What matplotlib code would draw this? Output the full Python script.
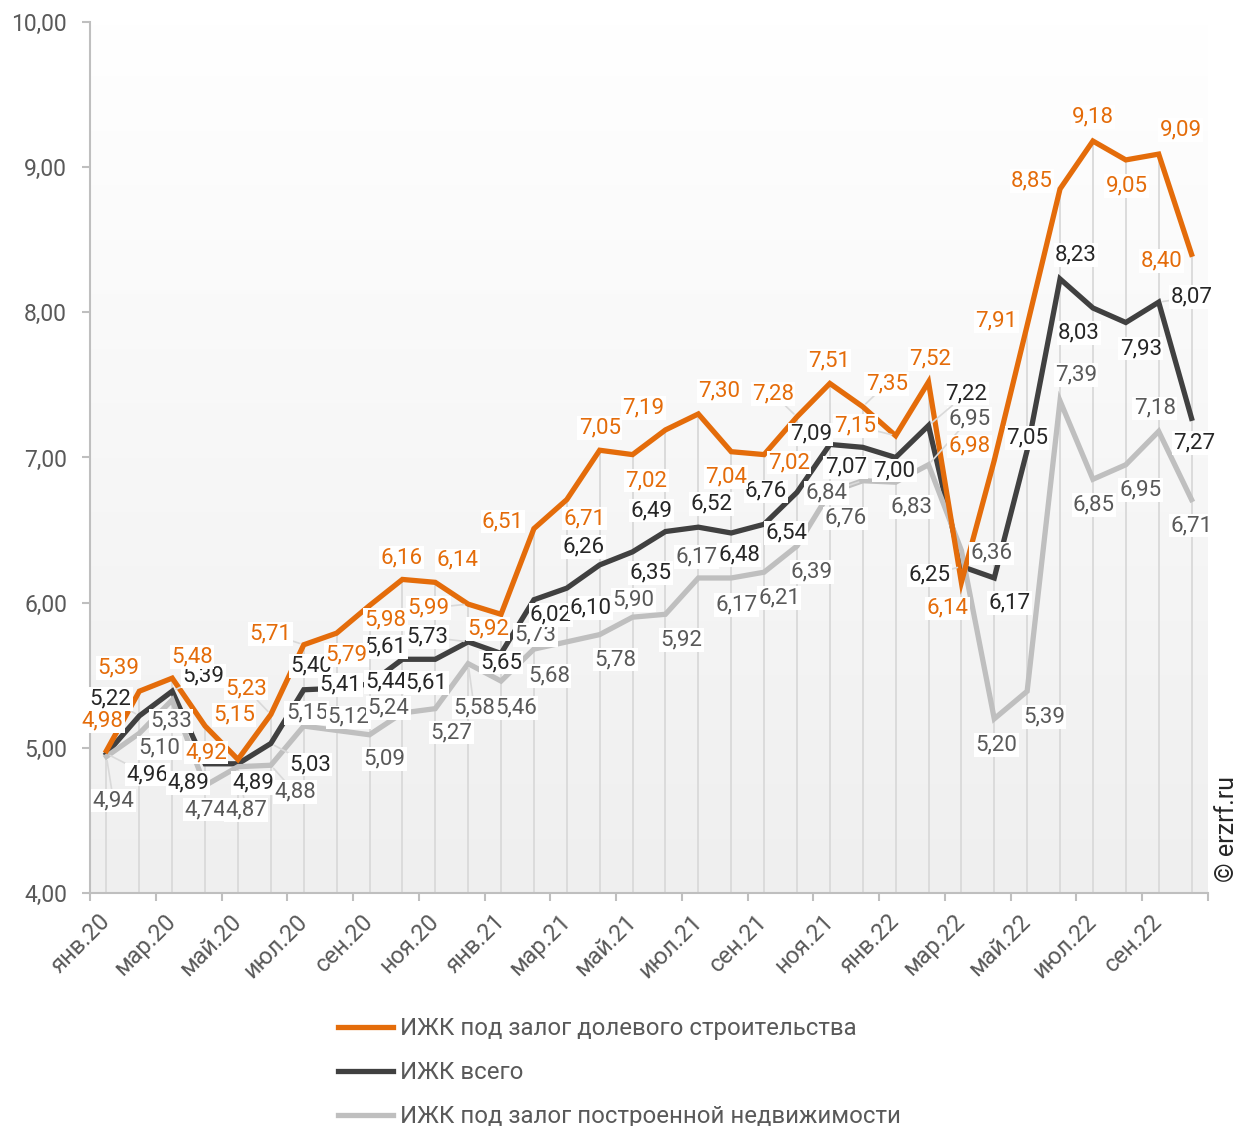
import matplotlib
matplotlib.use("Agg")
import matplotlib.pyplot as plt
import numpy as np
from matplotlib.colors import LinearSegmentedColormap

plt.rcParams['font.family'] = ['Roboto', 'DejaVu Sans']

# data
months = ["янв.20", "фев.20", "мар.20", "апр.20", "май.20", "июн.20",
          "июл.20", "авг.20", "сен.20", "окт.20", "ноя.20", "дек.20",
          "янв.21", "фев.21", "мар.21", "апр.21", "май.21", "июн.21",
          "июл.21", "авг.21", "сен.21", "окт.21", "ноя.21", "дек.21",
          "янв.22", "фев.22", "мар.22", "апр.22", "май.22", "июн.22",
          "июл.22", "авг.22", "сен.22", "окт.22"]

dolevoe = [4.98, 5.39, 5.48, 5.15, 4.92, 5.23, 5.71, 5.79, 5.98, 6.16, 6.14, 5.99,
           5.92, 6.51, 6.71, 7.05, 7.02, 7.19, 7.30, 7.04, 7.02, 7.28, 7.51, 7.35,
           7.15, 7.52, 6.14, 6.98, 7.91, 8.85, 9.18, 9.05, 9.09, 8.40]

vsego = [4.96, 5.22, 5.39, 4.89, 4.89, 5.03, 5.40, 5.41, 5.44, 5.61, 5.61, 5.73,
         5.65, 6.02, 6.10, 6.26, 6.35, 6.49, 6.52, 6.48, 6.54, 6.76, 7.09, 7.07,
         7.00, 7.22, 6.25, 6.17, 7.05, 8.23, 8.03, 7.93, 8.07, 7.27]

postroennoe = [4.94, 5.10, 5.33, 4.74, 4.87, 4.88, 5.15, 5.12, 5.09, 5.24, 5.27, 5.58,
               5.46, 5.68, 5.73, 5.78, 5.90, 5.92, 6.17, 6.17, 6.21, 6.39, 6.76, 6.84,
               6.83, 6.95, 6.36, 5.20, 5.39, 7.39, 6.85, 6.95, 7.18, 6.71]

names = ["ИЖК под залог долевого строительства", "ИЖК всего",
         "ИЖК под залог построенной недвижимости"]

# label offsets in pixels (dx right, dy down)
off_dol = [(-4, -30), (-21, -23), (20, -21), (29, -11), (-32, -7), (-25, -26), (-33, -11),
           (10, 22), (16, 14), (-1, -22), (22, -22), (-40, 4), (-13, 15), (-31, -7),
           (18, 19), (0, -22), (14, 26), (-22, -22), (21, -23), (-5, 25), (25, 8),
           (-24, -23), (-1, -23), (24, -23), (-40, -10), (2, -23), (-14, 26), (-25, -14),
           (-31, -4), (-28, -8), (0, -24), (1, 26), (22, -24), (-30, 7)]
off_vse = [(41, 21), (-29, -17), (31, -15), (-17, 19), (15, 19), (39, 21), (7, -24),
           (4, -3), (17, -2), (-17, -12), (-9, 24), (-41, -5), (0, 9), (17, 15),
           (24, 20), (-16, -18), (18, 21), (-14, -21), (13, -23), (8, 22), (22, 9),
           (-31, -1), (-19, -10), (-17, 20), (-1, 13), (38, -32), (-32, 9), (15, 25),
           (0, -12), (16, -24), (-14, 25), (15, 26), (33, -5), (3, 25)]
off_pos = [(7, 44), (20, 15), (-1, 21), (0, 24), (8, 43), (24, 27), (3, -13), (12, -13),
           (15, 24), (-14, -5), (16, 24), (6, 44), (15, 27), (15, 27), (-31, -7),
           (16, 25), (1, -17), (16, 26), (-2, -21), (5, 27), (15, 26), (15, 26),
           (16, 26), (-36, 12), (16, 25), (41, -46), (30, 3), (2, 26), (17, 26),
           (16, -26), (1, 26), (15, 25), (-4, -23), (0, 26)]

c_or = "#E46C0A"
c_bk = "#404040"
c_gr = "#BFBFBF"

fig = plt.figure(figsize=(12.48, 11.26), dpi=100)
ax = fig.add_axes([90/1248, 1-893/1126, (1208-90)/1248, (893-22)/1126])

x = np.arange(len(months))

# gradient background
grad = LinearSegmentedColormap.from_list("g", ["#EFEFEF", "#FFFFFF"])
ax.imshow(np.linspace(0, 1, 256).reshape(-1, 1), extent=[-0.5, 33.5, 4, 10],
          origin="lower", aspect="auto", cmap=grad, zorder=0)

# drop lines
top = np.max([dolevoe, vsego, postroennoe], axis=0)
ax.vlines(x, 4, top, color="#D9D9D9", lw=1.3, zorder=1)

ax.plot(x, dolevoe, color=c_or, lw=3.8, label=names[0], zorder=3, solid_joinstyle="miter")
ax.plot(x, vsego, color=c_bk, lw=3.8, label=names[1], zorder=2, solid_joinstyle="miter")
ax.plot(x, postroennoe, color=c_gr, lw=3.8, label=names[2], zorder=2.5, solid_joinstyle="miter")

def put_labels(vals, offs, col):
    for i, v in enumerate(vals):
        dx, dy = offs[i]
        lead = None
        if np.hypot(dx, dy) > 33:
            lead = dict(arrowstyle="-", color="#D9D9D9", lw=1.2, shrinkA=0, shrinkB=3)
        ax.annotate(f"{v:.2f}".replace(".", ","), (i, v), xytext=(dx, -dy),
                    textcoords="offset pixels", ha="center", va="center",
                    fontsize=16, color=col, zorder=6, arrowprops=lead,
                    bbox=dict(boxstyle="square,pad=0.06", fc="white", ec="none"))

put_labels(postroennoe, off_pos, "#595959")
put_labels(vsego, off_vse, "#262626")
put_labels(dolevoe, off_dol, c_or)

ax.set_xlim(-0.5, 33.5)
ax.set_ylim(4, 10)
ax.set_yticks(np.arange(4, 10.01, 1))
ax.set_yticklabels([f"{t:.2f}".replace(".", ",") for t in np.arange(4, 10.01, 1)])

ax.set_xticks(np.arange(-0.5, 34, 2))
ax.set_xticklabels([])
ax.set_xticks(x[::2], minor=True)
ax.set_xticklabels(months[::2], minor=True, rotation=45, ha="right",
                   rotation_mode="anchor", va="center")

ax.tick_params(axis="y", length=6, width=1.5, color="#BFBFBF", pad=10.5,
               labelsize=16.5, labelcolor="#595959")
ax.tick_params(axis="x", which="major", length=6, width=1.5, color="#BFBFBF")
ax.tick_params(axis="x", which="minor", length=0, pad=18, labelsize=17,
               labelcolor="#595959")

for s in ["top", "right"]:
    ax.spines[s].set_visible(False)
for s in ["left", "bottom"]:
    ax.spines[s].set_color("#BFBFBF")
    ax.spines[s].set_linewidth(1.5)

fig.legend(loc="upper left", bbox_to_anchor=(338/1248, 1-1017/1126), frameon=False,
           fontsize=17.3, handlelength=2.3, handletextpad=0.3, labelspacing=0.88,
           borderpad=0, borderaxespad=0, labelcolor="#595959")

fig.text(1227/1248, 1-829/1126, "© erzrf.ru", rotation=90, ha="center", va="center",
         fontsize=18, color="#262626")

fig.savefig("out.png", dpi=100)
